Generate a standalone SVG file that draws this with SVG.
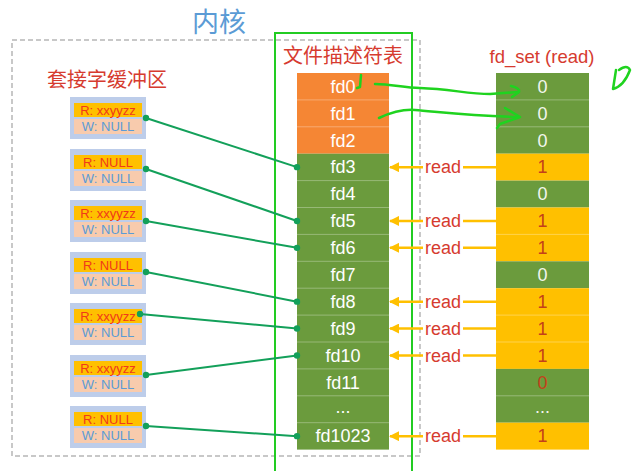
<svg xmlns="http://www.w3.org/2000/svg" width="636" height="471" viewBox="0 0 636 471">
<style>
.cjk{font-family:"Noto Sans CJK SC","Noto Sans",sans-serif}
.lat{font-family:"Liberation Sans","Noto Sans",sans-serif}
.fdt{font-family:"Liberation Sans",sans-serif;font-size:18px;fill:#ffffff;text-anchor:middle}
.bit1{font-family:"Liberation Sans",sans-serif;font-size:18px;fill:#C4401A;text-anchor:middle}
.bit0{font-family:"Liberation Sans",sans-serif;font-size:18px;fill:#F2F6EE;text-anchor:middle}
.or{fill:#F58634}
.gr{fill:#6B9B3D}
.ye{fill:#FFC000}
.sep{stroke:#ffffff;stroke-opacity:0.3;stroke-width:1}
.box{fill:#BDCDEA}
.rs{fill:#FFC000}
.ws{fill:#F8CBAD}
.rt{font-family:"Liberation Sans",sans-serif;font-size:13px;fill:#F03A1A;text-anchor:middle}
.wt{font-family:"Liberation Sans",sans-serif;font-size:13px;fill:#5B9BD5;text-anchor:middle}
.conn{stroke:#13A05A;stroke-width:2;fill:none}
.dot{fill:#13A05A}
.rd{stroke:#FFC000;stroke-width:2.5;fill:none}
.rdt{font-family:"Liberation Sans",sans-serif;font-size:18px;fill:#D63B2F;text-anchor:middle}
.hand{stroke:#1FD31F;stroke-width:2.5;fill:none;stroke-linecap:round;stroke-linejoin:round}
</style>
<defs>
<marker id="ah" viewBox="0 0 10 10" refX="9" refY="5" markerWidth="4" markerHeight="4" orient="auto">
<path d="M0,0 L10,5 L0,10 z" fill="#FFC000"/>
</marker>
</defs>
<rect width="636" height="471" fill="#ffffff"/>
<!-- kernel frame -->
<g id="kernel">
<rect x="12" y="40" width="408" height="416" fill="none" stroke="#C8C8C8" stroke-width="2" stroke-dasharray="5 3"/>
<text x="219" y="32" class="cjk" font-size="27" fill="#5B9BD5" text-anchor="middle">内核</text>
</g>
<g id="fdtable-frame">
<rect x="275" y="33" width="137" height="460" fill="none" stroke="#22CC22" stroke-width="2"/>
<text x="343" y="63" class="cjk" font-size="20" fill="#D63B2F" text-anchor="middle">文件描述符表</text>
</g>
<text x="107" y="87" class="cjk" font-size="20" fill="#D63B2F" text-anchor="middle">套接字缓冲区</text>
<text x="542" y="63" class="lat" font-size="18.5" fill="#D63B2F" text-anchor="middle">fd_set (read)</text>

<!-- fd table -->
<g id="fdtable">
<rect x="297" y="73" width="92" height="80.7" class="or"/>
<rect x="297" y="153.7" width="92" height="295.9" class="gr"/>
<g class="sep">
<line x1="297" x2="389" y1="99.9" y2="99.9"/><line x1="297" x2="389" y1="126.8" y2="126.8"/>
<line x1="297" x2="389" y1="180.6" y2="180.6"/><line x1="297" x2="389" y1="207.5" y2="207.5"/>
<line x1="297" x2="389" y1="234.4" y2="234.4"/><line x1="297" x2="389" y1="261.3" y2="261.3"/>
<line x1="297" x2="389" y1="288.2" y2="288.2"/><line x1="297" x2="389" y1="315.1" y2="315.1"/>
<line x1="297" x2="389" y1="342" y2="342"/><line x1="297" x2="389" y1="368.9" y2="368.9"/>
<line x1="297" x2="389" y1="395.8" y2="395.8"/><line x1="297" x2="389" y1="422.7" y2="422.7"/>
</g>
<text class="fdt" x="343" y="92.7">fd0</text>
<text class="fdt" x="343" y="119.6">fd1</text>
<text class="fdt" x="343" y="146.5">fd2</text>
<text class="fdt" x="343" y="173.4">fd3</text>
<text class="fdt" x="343" y="200.3">fd4</text>
<text class="fdt" x="343" y="227.2">fd5</text>
<text class="fdt" x="343" y="254.1">fd6</text>
<text class="fdt" x="343" y="281">fd7</text>
<text class="fdt" x="343" y="307.9">fd8</text>
<text class="fdt" x="343" y="334.8">fd9</text>
<text class="fdt" x="343" y="361.7">fd10</text>
<text class="fdt" x="343" y="388.6">fd11</text>
<text class="fdt" x="343" y="413" font-size="13">...</text>
<text class="fdt" x="343" y="442.4">fd1023</text>
</g>

<!-- fd_set -->
<g id="fdset">
<rect x="496" y="73" width="93" height="80.7" class="gr"/>
<rect x="496" y="153.7" width="93" height="26.9" class="ye"/>
<rect x="496" y="180.6" width="93" height="26.9" class="gr"/>
<rect x="496" y="207.5" width="93" height="53.8" class="ye"/>
<rect x="496" y="261.3" width="93" height="26.9" class="gr"/>
<rect x="496" y="288.2" width="93" height="80.7" class="ye"/>
<rect x="496" y="368.9" width="93" height="53.8" class="gr"/>
<rect x="496" y="422.7" width="93" height="26.9" class="ye"/>
<g class="sep">
<line x1="496" x2="589" y1="99.9" y2="99.9"/><line x1="496" x2="589" y1="126.8" y2="126.8"/>
<line x1="496" x2="589" y1="234.4" y2="234.4"/>
<line x1="496" x2="589" y1="315.1" y2="315.1"/><line x1="496" x2="589" y1="342" y2="342"/>
<line x1="496" x2="589" y1="395.8" y2="395.8"/>
</g>
<text class="bit0" x="542.5" y="92.7">0</text>
<text class="bit0" x="542.5" y="119.6">0</text>
<text class="bit0" x="542.5" y="146.5">0</text>
<text class="bit1" x="542.5" y="173.4">1</text>
<text class="bit0" x="542.5" y="200.3">0</text>
<text class="bit1" x="542.5" y="227.2">1</text>
<text class="bit1" x="542.5" y="254.1">1</text>
<text class="bit0" x="542.5" y="281">0</text>
<text class="bit1" x="542.5" y="307.9">1</text>
<text class="bit1" x="542.5" y="334.8">1</text>
<text class="bit1" x="542.5" y="361.7">1</text>
<text class="bit1" x="542.5" y="388.6" fill="#C55A11">0</text>
<text class="bit0" x="542.5" y="413" font-size="13">...</text>
<text class="bit1" x="542.5" y="442.4">1</text>
</g>

<!-- socket buffers -->
<g id="buf1"><rect class="box" x="70" y="97" width="76" height="42"/><rect class="rs" x="74" y="103" width="68" height="14"/><rect class="ws" x="74" y="119" width="68" height="15"/><text class="rt" x="108" y="114.5">R: xxyyzz</text><text class="wt" x="108" y="131">W: NULL</text></g>
<g id="buf2"><rect class="box" x="70" y="149" width="76" height="42"/><rect class="rs" x="74" y="155" width="68" height="14"/><rect class="ws" x="74" y="171" width="68" height="15"/><text class="rt" x="108" y="166.5">R: NULL</text><text class="wt" x="108" y="183">W: NULL</text></g>
<g id="buf3"><rect class="box" x="70" y="200" width="76" height="42"/><rect class="rs" x="74" y="206" width="68" height="14"/><rect class="ws" x="74" y="222" width="68" height="15"/><text class="rt" x="108" y="217.5">R: xxyyzz</text><text class="wt" x="108" y="234">W: NULL</text></g>
<g id="buf4"><rect class="box" x="70" y="252" width="76" height="42"/><rect class="rs" x="74" y="258" width="68" height="14"/><rect class="ws" x="74" y="274" width="68" height="15"/><text class="rt" x="108" y="269.5">R: NULL</text><text class="wt" x="108" y="286">W: NULL</text></g>
<g id="buf5"><rect class="box" x="70" y="303" width="76" height="42"/><rect class="rs" x="74" y="309" width="68" height="14"/><rect class="ws" x="74" y="325" width="68" height="15"/><text class="rt" x="108" y="320.5">R: xxyyzz</text><text class="wt" x="108" y="337">W: NULL</text></g>
<g id="buf6"><rect class="box" x="70" y="355" width="76" height="42"/><rect class="rs" x="74" y="361" width="68" height="14"/><rect class="ws" x="74" y="377" width="68" height="15"/><text class="rt" x="108" y="372.5">R: xxyyzz</text><text class="wt" x="108" y="389">W: NULL</text></g>
<g id="buf7"><rect class="box" x="70" y="406" width="76" height="42"/><rect class="rs" x="74" y="412" width="68" height="14"/><rect class="ws" x="74" y="428" width="68" height="15"/><text class="rt" x="108" y="423.5">R: NULL</text><text class="wt" x="108" y="440">W: NULL</text></g>

<!-- connectors -->
<g id="connectors">
<line class="conn" x1="146" y1="118" x2="297" y2="167.15"/>
<line class="conn" x1="146" y1="169" x2="297" y2="220.95"/>
<line class="conn" x1="146" y1="221" x2="297" y2="247.85"/>
<line class="conn" x1="146" y1="272" x2="297" y2="301.65"/>
<line class="conn" x1="140" y1="314" x2="297" y2="328.55"/>
<line class="conn" x1="146" y1="375" x2="297" y2="355.45"/>
<line class="conn" x1="146" y1="426" x2="297" y2="436.15"/>
<g class="dot">
<circle cx="146" cy="118" r="3.2"/><circle cx="297" cy="167.15" r="3.2"/>
<circle cx="146" cy="169" r="3.2"/><circle cx="297" cy="220.95" r="3.2"/>
<circle cx="146" cy="221" r="3.2"/><circle cx="297" cy="247.85" r="3.2"/>
<circle cx="146" cy="272" r="3.2"/><circle cx="297" cy="301.65" r="3.2"/>
<circle cx="140" cy="314" r="3.2"/><circle cx="297" cy="328.55" r="3.2"/>
<circle cx="146" cy="375" r="3.2"/><circle cx="297" cy="355.45" r="3.2"/>
<circle cx="146" cy="426" r="3.2"/><circle cx="297" cy="436.15" r="3.2"/>
</g>
<!-- read arrows -->
<g>
<line class="rd" x1="496" y1="167.15" x2="463" y2="167.15"/><line class="rd" x1="423" y1="167.15" x2="390" y2="167.15" marker-end="url(#ah)"/><text class="rdt" x="443" y="173.4">read</text>
<line class="rd" x1="496" y1="220.95" x2="463" y2="220.95"/><line class="rd" x1="423" y1="220.95" x2="390" y2="220.95" marker-end="url(#ah)"/><text class="rdt" x="443" y="227.2">read</text>
<line class="rd" x1="496" y1="247.85" x2="463" y2="247.85"/><line class="rd" x1="423" y1="247.85" x2="390" y2="247.85" marker-end="url(#ah)"/><text class="rdt" x="443" y="254.1">read</text>
<line class="rd" x1="496" y1="301.65" x2="463" y2="301.65"/><line class="rd" x1="423" y1="301.65" x2="390" y2="301.65" marker-end="url(#ah)"/><text class="rdt" x="443" y="307.9">read</text>
<line class="rd" x1="496" y1="328.55" x2="463" y2="328.55"/><line class="rd" x1="423" y1="328.55" x2="390" y2="328.55" marker-end="url(#ah)"/><text class="rdt" x="443" y="334.8">read</text>
<line class="rd" x1="496" y1="355.45" x2="463" y2="355.45"/><line class="rd" x1="423" y1="355.45" x2="390" y2="355.45" marker-end="url(#ah)"/><text class="rdt" x="443" y="361.7">read</text>
<line class="rd" x1="496" y1="436.15" x2="463" y2="436.15"/><line class="rd" x1="423" y1="436.15" x2="390" y2="436.15" marker-end="url(#ah)"/><text class="rdt" x="443" y="442.4">read</text>
</g>
<!-- hand-drawn annotations -->
<g id="annotations">
<path class="hand" d="M361,75 L360,87 L357,88"/>
<path class="hand" d="M375,84 C392,84 404,88 420,88 C450,89 468,94 490,94 L518,92"/>
<path class="hand" d="M511,86 Q520,88 519,92 L512,97"/>
<path class="hand" d="M379,118 C392,112 402,109 415,110 C440,112 470,116 518,117"/>
<path class="hand" d="M505,108 L520,117 L500,124 L497,128"/>
<path class="hand" d="M616,70 L613,89 Q624,86 630,70 Q627,64 619,70"/>
</g>
</g>
</svg>
